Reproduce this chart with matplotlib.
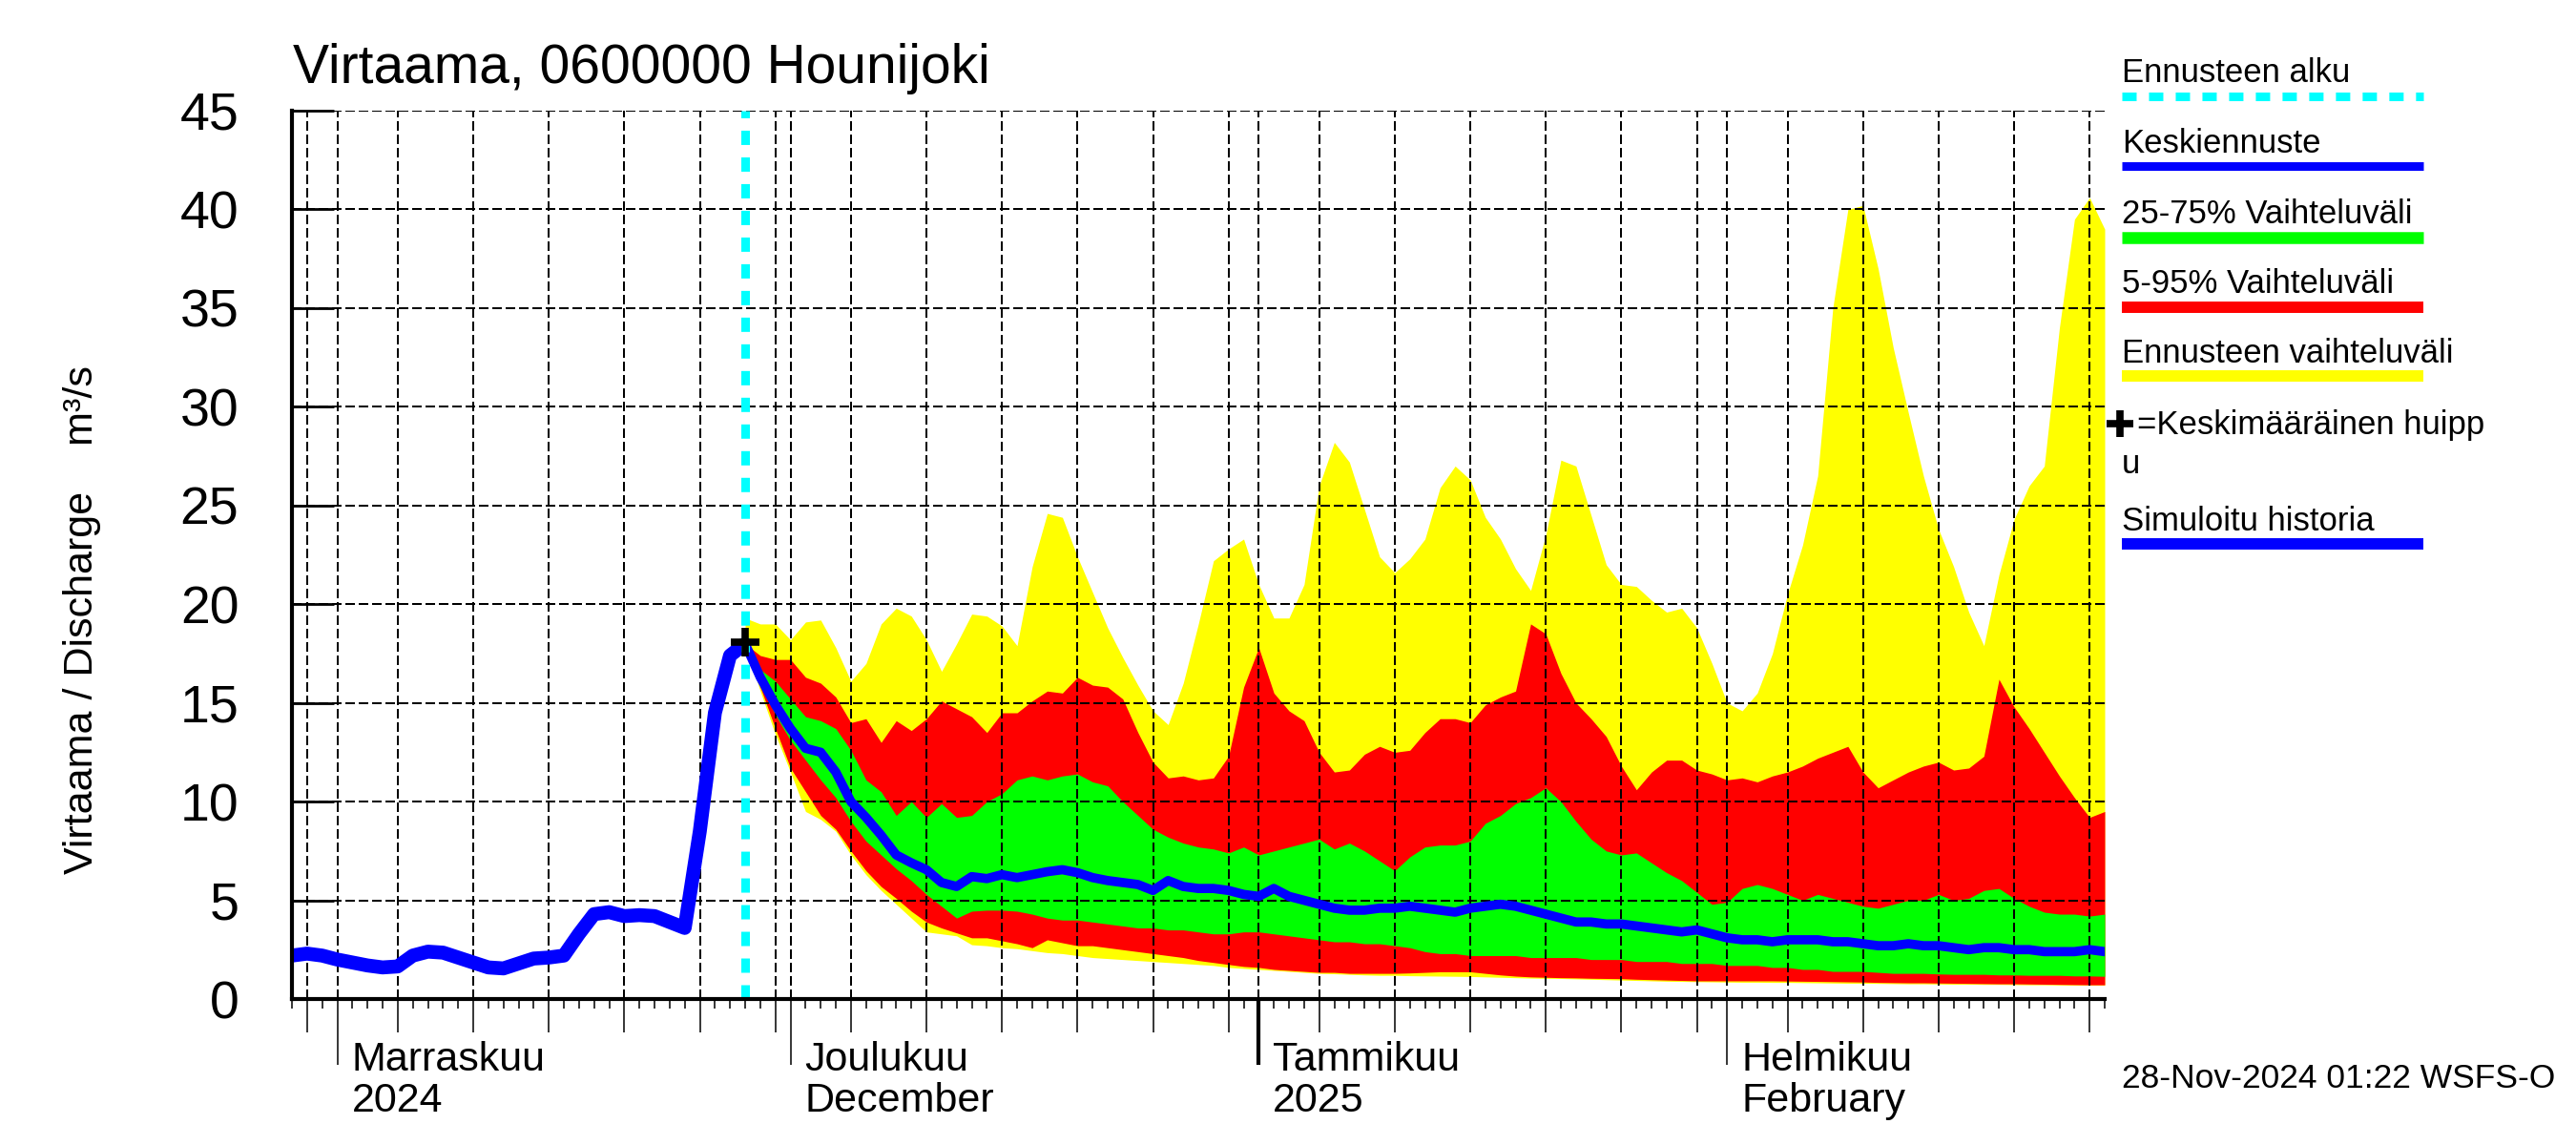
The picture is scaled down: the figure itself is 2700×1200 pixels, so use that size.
import numpy as np
import pandas as pd
import matplotlib
matplotlib.use('Agg')
import matplotlib.pyplot as plt
import matplotlib.dates as mdates
from matplotlib.lines import Line2D
from matplotlib.transforms import offset_copy

plt.rcParams['font.family'] = ['Liberation Sans', 'DejaVu Sans']

# ---- data ----
hist_start = '2024-10-29'
hist_q = [2.2, 2.3, 2.2, 2.0, 1.85, 1.7, 1.6, 1.65, 2.2, 2.4, 2.35, 2.1, 1.85, 1.6, 1.55,
          1.8, 2.05, 2.1, 2.2, 3.3, 4.3, 4.4, 4.2, 4.25, 4.2, 3.9, 3.6, 8.5, 14.5, 17.4, 18.0]

fc_start = '2024-11-28'
fc_max = [19.3, 19.0, 19.0, 18.2, 19.1, 19.2, 17.8, 16.1, 17.0, 19.0,
          19.8, 19.4, 18.2, 16.6, 18.0, 19.5, 19.4, 18.9, 17.9, 21.9,
          24.6, 24.4, 22.4, 20.6, 18.8, 17.3, 15.9, 14.6, 13.9, 16.0,
          19.0, 22.2, 22.8, 23.3, 21.0, 19.3, 19.3, 21.0, 26.0, 28.2,
          27.2, 24.8, 22.4, 21.6, 22.3, 23.3, 25.9, 27.0, 26.3, 24.4,
          23.3, 21.8, 20.7, 23.5, 27.3, 27.0, 24.5, 22.0, 21.0, 20.9,
          20.2, 19.6, 19.8, 18.8, 17.0, 15.0, 14.6, 15.5, 17.5, 20.5,
          23.0, 26.5, 35.0, 40.0, 40.2, 37.0, 33.0, 29.7, 26.5, 23.8,
          21.9, 19.6, 17.9, 21.5, 24.3, 26.0, 27.0, 34.0, 39.5, 40.6, 39.0]
fc_p95 = [18.0, 17.4, 17.2, 17.2, 16.3, 16.0, 15.3, 14.0, 14.2, 13.0,
          14.1, 13.6, 14.2, 15.1, 14.7, 14.3, 13.5, 14.5, 14.5, 15.1,
          15.6, 15.5, 16.3, 15.9, 15.8, 15.2, 13.5, 12.0, 11.2, 11.3,
          11.1, 11.2, 12.3, 15.8, 17.8, 15.5, 14.6, 14.1, 12.5, 11.5,
          11.6, 12.4, 12.8, 12.5, 12.6, 13.5, 14.2, 14.2, 14.0, 14.9,
          15.3, 15.6, 19.0, 18.5, 16.5, 15.0, 14.2, 13.3, 11.8, 10.6,
          11.5, 12.1, 12.1, 11.6, 11.4, 11.1, 11.2, 11.0, 11.3, 11.5,
          11.8, 12.2, 12.5, 12.8, 11.5, 10.7, 11.1, 11.5, 11.8, 12.0,
          11.6, 11.7, 12.3, 16.2, 14.8, 13.7, 12.5, 11.3, 10.2, 9.2, 9.5]
fc_p75 = [18.0, 16.7, 16.1, 15.2, 14.3, 14.1, 13.7, 12.6, 11.1, 10.5,
          9.3, 10.0, 9.2, 9.9, 9.2, 9.3, 10.0, 10.4, 11.1, 11.3,
          11.1, 11.3, 11.4, 11.0, 10.8, 10.0, 9.3, 8.6, 8.2, 7.9,
          7.7, 7.6, 7.4, 7.7, 7.3, 7.5, 7.7, 7.9, 8.1, 7.6,
          7.9, 7.5, 7.0, 6.5, 7.2, 7.7, 7.8, 7.8, 8.0, 8.9,
          9.3, 9.9, 10.2, 10.7, 10.0, 9.0, 8.1, 7.5, 7.3, 7.4,
          6.9, 6.4, 6.0, 5.4, 4.8, 4.9, 5.6, 5.8, 5.6, 5.3,
          5.0, 5.3, 5.1, 4.9, 4.7, 4.6, 4.8, 5.0, 5.0, 5.3,
          5.0, 5.1, 5.5, 5.6, 5.1, 4.7, 4.4, 4.3, 4.3, 4.2, 4.3]
fc_mean = [18.0, 16.3, 14.9, 13.7, 12.7, 12.5, 11.5, 10.0, 9.2, 8.3,
           7.3, 6.9, 6.55, 5.9, 5.7, 6.2, 6.1, 6.3, 6.15, 6.3,
           6.45, 6.55, 6.4, 6.15, 6.0, 5.9, 5.8, 5.5, 6.0, 5.7,
           5.6, 5.6, 5.5, 5.3, 5.2, 5.6, 5.2, 5.0, 4.8, 4.6,
           4.5, 4.5, 4.6, 4.6, 4.7, 4.6, 4.5, 4.4, 4.6, 4.7,
           4.8, 4.7, 4.5, 4.3, 4.1, 3.9, 3.9, 3.8, 3.8, 3.7,
           3.6, 3.5, 3.4, 3.5, 3.3, 3.1, 3.0, 3.0, 2.9, 3.0,
           3.0, 3.0, 2.9, 2.9, 2.8, 2.7, 2.7, 2.8, 2.7, 2.7,
           2.6, 2.5, 2.6, 2.6, 2.5, 2.5, 2.4, 2.4, 2.4, 2.5, 2.4]
fc_p25 = [18.0, 16.0, 14.4, 13.1, 12.1, 11.1, 10.2, 9.0, 8.0, 7.3,
          6.6, 6.0, 5.3, 4.7, 4.1, 4.45, 4.5, 4.5, 4.45, 4.3,
          4.1, 4.0, 4.0, 3.9, 3.8, 3.7, 3.6, 3.6, 3.5, 3.5,
          3.4, 3.3, 3.3, 3.4, 3.4, 3.3, 3.2, 3.1, 3.0, 2.9,
          2.9, 2.8, 2.8, 2.7, 2.6, 2.4, 2.3, 2.3, 2.2, 2.2,
          2.2, 2.2, 2.1, 2.1, 2.1, 2.1, 2.0, 2.0, 2.0, 1.9,
          1.9, 1.9, 1.8, 1.8, 1.8, 1.7, 1.7, 1.7, 1.6, 1.6,
          1.5, 1.5, 1.4, 1.4, 1.4, 1.35, 1.3, 1.3, 1.3, 1.27,
          1.25, 1.25, 1.25, 1.22, 1.22, 1.2, 1.2, 1.2, 1.17, 1.17, 1.15]
fc_p05 = [18.0, 15.8, 13.7, 11.7, 10.5, 9.3, 8.6, 7.5, 6.5, 5.7,
          5.1, 4.45, 3.9, 3.6, 3.35, 3.1, 3.1, 2.95, 2.8, 2.6,
          3.0, 2.85, 2.7, 2.7, 2.6, 2.5, 2.4, 2.3, 2.2, 2.1,
          1.95, 1.85, 1.75, 1.65, 1.6, 1.5, 1.45, 1.4, 1.35, 1.35,
          1.3, 1.3, 1.3, 1.3, 1.32, 1.35, 1.38, 1.38, 1.38, 1.3,
          1.22, 1.16, 1.12, 1.1, 1.08, 1.07, 1.05, 1.04, 1.03, 1.0,
          0.98, 0.96, 0.94, 0.92, 0.92, 0.92, 0.92, 0.92, 0.92, 0.91,
          0.9, 0.89, 0.88, 0.87, 0.86, 0.84, 0.83, 0.82, 0.82, 0.81,
          0.8, 0.79, 0.78, 0.77, 0.77, 0.76, 0.75, 0.74, 0.73, 0.72, 0.72]
fc_min = [18.0, 15.6, 13.4, 11.5, 9.5, 9.1, 8.5, 7.3, 6.3, 5.5,
          4.8, 4.1, 3.4, 3.3, 3.2, 2.75, 2.7, 2.6, 2.55, 2.45,
          2.35, 2.3, 2.2, 2.1, 2.05, 2.0, 1.95, 1.9, 1.85, 1.8,
          1.75, 1.7, 1.6, 1.55, 1.5, 1.45, 1.4, 1.35, 1.3, 1.28,
          1.25, 1.22, 1.2, 1.2, 1.18, 1.17, 1.16, 1.15, 1.14, 1.12,
          1.1, 1.08, 1.06, 1.05, 1.04, 1.02, 1.0, 0.98, 0.96, 0.94,
          0.92, 0.9, 0.89, 0.88, 0.87, 0.86, 0.85, 0.85, 0.84, 0.84,
          0.83, 0.82, 0.81, 0.8, 0.8, 0.79, 0.78, 0.77, 0.77, 0.76,
          0.75, 0.75, 0.74, 0.74, 0.73, 0.72, 0.72, 0.71, 0.7, 0.7, 0.7]

peak_date = '2024-11-28'
peak_q = 18.1

x_start, x_end = '2024-10-29', '2025-02-26'
month_starts = ['2024-11-01', '2024-12-01', '2025-01-01', '2025-02-01']
month_fi = ['Marraskuu', 'Joulukuu', 'Tammikuu', 'Helmikuu']
month_sub = ['2024', 'December', '2025', 'February']
y_ticks = [0, 5, 10, 15, 20, 25, 30, 35, 40, 45]

title = 'Virtaama, 0600000 Hounijoki'
ylabel = 'Virtaama / Discharge    m³/s'
stamp = '28-Nov-2024 01:22 WSFS-O'
legend_labels = ['Ennusteen alku', 'Keskiennuste', '25-75% Vaihteluväli',
                 '5-95% Vaihteluväli', 'Ennusteen vaihteluväli',
                 '=Keskimääräinen huipp', 'Simuloitu historia']

CYAN, BLUE, GREEN, RED, YELLOW = '#00ffff', '#0000ff', '#00ff00', '#ff0000', '#ffff00'

hist_dates = pd.date_range(hist_start, periods=len(hist_q), freq='D')
fc_dates = pd.date_range(fc_start, periods=len(fc_mean), freq='D')

W, H = 2700, 1200
fig = plt.figure(figsize=(27, 12), dpi=100)
ax = fig.add_axes([306 / W, 1 - 1047 / H, 1900 / W, 931 / H])

# bands
ax.fill_between(fc_dates, fc_min, fc_max, color=YELLOW, lw=0, zorder=1)
ax.fill_between(fc_dates, fc_p05, fc_p95, color=RED, lw=0, zorder=1.1)
ax.fill_between(fc_dates, fc_p25, fc_p75, color=GREEN, lw=0, zorder=1.2)

ax.plot(hist_dates, hist_q, color=BLUE, lw=10.5, solid_capstyle='butt', zorder=3)
ax.plot(fc_dates, fc_mean, color=BLUE, lw=7, zorder=3)
ax.axvline(pd.Timestamp(fc_start), color=CYAN, lw=6.5, linestyle=(0, (1.66, 1.44)), zorder=4)
ax.plot([pd.Timestamp(peak_date)], [peak_q], marker='+', ms=22, mew=5.5, color='black', zorder=5)

ax.set_xlim(pd.Timestamp(x_start), pd.Timestamp(x_end))
ax.set_ylim(0, 45)
ax.set_yticks(y_ticks)

ax.xaxis.set_major_locator(mdates.DayLocator(bymonthday=[1, 5, 10, 15, 20, 25, 30]))
ax.xaxis.set_minor_locator(mdates.DayLocator())
ax.xaxis.set_major_formatter(plt.NullFormatter())

ax.grid(True, which='major', color='black', linestyle=(0, (6, 3)), linewidth=1.2,
        antialiased=False)
ax.set_axisbelow(False)

for side in ['top', 'right']:
    ax.spines[side].set_visible(False)
for side in ['left', 'bottom']:
    ax.spines[side].set_linewidth(3)
    ax.spines[side].set_zorder(6)

ax.tick_params(axis='y', direction='in', length=32, width=2, pad=40, labelsize=40)
ax.tick_params(axis='x', which='major', direction='out', length=25, width=1.1)
ax.tick_params(axis='x', which='minor', direction='out', length=7.2, width=1.1)

fig.canvas.draw()
for tick, loc in zip(ax.xaxis.get_major_ticks(), ax.get_xticks()):
    dt = mdates.num2date(loc)
    if dt.day == 1:
        tick.tick1line.set_markersize(50)
        if dt.month == 1:
            tick.tick1line.set_markeredgewidth(3)

# month labels
lab_tr = offset_copy(ax.get_xaxis_transform(), fig=fig, x=15, y=0, units='dots')
for d, a, b in zip(month_starts, month_fi, month_sub):
    ax.text(pd.Timestamp(d), -0.0806, a, transform=lab_tr, fontsize=31, va='baseline', ha='left')
    ax.text(pd.Timestamp(d), -0.1269, b, transform=lab_tr, fontsize=31, va='baseline', ha='left')

fig.text(307 / W, 1 - 87 / H, title, fontsize=41, va='baseline', ha='left')
fig.text(86 / W, 1 - 650 / H, ylabel, fontsize=31, rotation=90, va='center', ha='center')
fig.text(2224 / W, 1 - 1140 / H, stamp, fontsize=25.5, va='baseline', ha='left')

# legend drawn by hand on the right
lx0, lx1 = 2224 / W, 2540 / W
text_y = [86, 160, 234, 307, 380, 455, 556]
bar_y = [101, 174, 249, 322, 394, None, 570]
bar_style = [dict(color=CYAN, lw=6.5, linestyle=(0, (1.66, 1.44))),
             dict(color=BLUE, lw=6.5), dict(color=GREEN, lw=9),
             dict(color=RED, lw=8.6), dict(color=YELLOW, lw=8.6),
             None, dict(color=BLUE, lw=8.6)]
for lab, ty, by, st in zip(legend_labels, text_y, bar_y, bar_style):
    tx = 2240 / W if by is None else 2224 / W
    fig.text(tx, 1 - ty / H, lab, fontsize=25, va='baseline', ha='left')
    if by is not None:
        fig.add_artist(Line2D([lx0, lx1], [1 - by / H, 1 - by / H], transform=fig.transFigure,
                              solid_capstyle='butt', **st))
fig.add_artist(Line2D([2222 / W], [1 - 444 / H], transform=fig.transFigure,
                      marker='+', ms=20, mew=5.5, color='black', lw=0))
fig.text(2224 / W, 1 - 496 / H, 'u', fontsize=25, va='baseline', ha='left')

fig.savefig('out.png', dpi=100)
